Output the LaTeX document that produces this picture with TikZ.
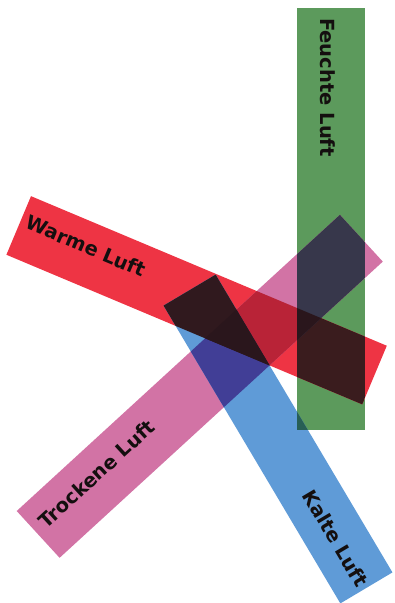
\documentclass[tikz,border=0pt]{standalone}
\usepackage{fontspec}
\setmainfont{DejaVu Sans}
\newfontfamily\labfont{DejaVu Sans}
\definecolor{cgreen}{RGB}{92,154,92}
\definecolor{cred}{RGB}{238,52,68}
\definecolor{cpink}{RGB}{210,115,165}
\definecolor{cblue}{RGB}{95,155,215}
\definecolor{crp}{RGB}{185,35,55}
\definecolor{crg}{RGB}{58,28,30}
\definecolor{cpg}{RGB}{55,55,75}
\definecolor{cpb}{RGB}{65,62,150}
\definecolor{crb}{RGB}{48,25,30}
\definecolor{cbg}{RGB}{40,95,85}
\definecolor{ctri}{RGB}{42,22,28}
\definecolor{labcol}{RGB}{20,15,15}
\tikzset{
  lab/.style={font=\labfont\bfseries\fontsize{19.5}{22}\selectfont, text=labcol, inner sep=0pt, anchor=center},
}
\begin{document}
\begin{tikzpicture}[x=1pt,y=-1pt]
\useasboundingbox (0,0) rectangle (394,603);
\clip (0,0) rectangle (394,603);
% corners
\coordinate (r1) at (31.0,196.15);
\coordinate (r2) at (386.8,345.75);
\coordinate (r3) at (362.2,404.35);
\coordinate (r4) at (6.4,254.75);
\coordinate (p1) at (16.7,511.0);
\coordinate (p2) at (59.6,557.8);
\coordinate (p3) at (382.8,261.6);
\coordinate (p4) at (339.9,214.8);
\coordinate (b1) at (163.55,305.6);
\coordinate (b2) at (215.65,274.6);
\coordinate (b3) at (392.45,572.4);
\coordinate (b4) at (340.35,603.4);
\coordinate (g1) at (296.5,8);
\coordinate (g2) at (365,8);
\coordinate (g3) at (365,430);
\coordinate (g4) at (296.5,430);
\def\rpath{(r1) -- (r2) -- (r3) -- (r4) -- cycle}
\def\ppath{(p1) -- (p2) -- (p3) -- (p4) -- cycle}
\def\bpath{(b1) -- (b2) -- (b3) -- (b4) -- cycle}
\def\gpath{(g1) -- (g2) -- (g3) -- (g4) -- cycle}
% single bars
\fill[cgreen] \gpath;
\fill[cred] \rpath;
\fill[cpink] \ppath;
\fill[cblue] \bpath;
% pairs
\begin{scope}\clip \rpath; \fill[crp] \ppath; \end{scope}
\begin{scope}\clip \rpath; \fill[crg] \gpath; \end{scope}
\begin{scope}\clip \ppath; \fill[cpg] \gpath; \end{scope}
\begin{scope}\clip \ppath; \fill[cpb] \bpath; \end{scope}
\begin{scope}\clip \rpath; \fill[crb] \bpath; \end{scope}
\begin{scope}\clip \bpath; \fill[cbg] \gpath; \end{scope}
% triples
\begin{scope}\clip \rpath; \clip \ppath; \fill[ctri] \gpath; \end{scope}
\begin{scope}\clip \rpath; \clip \ppath; \fill[ctri] \bpath; \end{scope}
% labels
\node[lab, rotate=-90] (tf) at (328,87.5) {Feuchte Luft};
\node[lab, rotate=-22.8] (tw) at (86,246) {Warme Luft};
\node[lab, rotate=42.5] (tt) at (96.5,474) {Trockene Luft};
\node[lab, rotate=-59.3] (tk) at (335.5,538) {Kalte Luft};
\end{tikzpicture}
\end{document}
